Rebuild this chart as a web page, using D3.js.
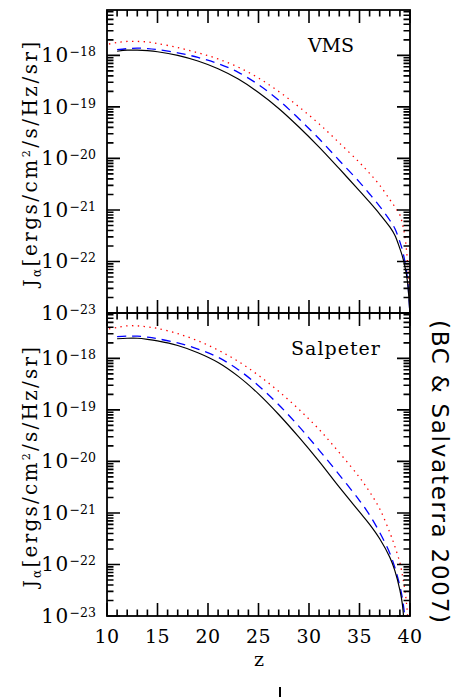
<!DOCTYPE html>
<html>
<head>
<meta charset="utf-8">
<script src="https://cdn.jsdelivr.net/npm/d3@7"></script>
<style>
  html, body { margin: 0; padding: 0; background: #fff; }
  svg { display: block; }
  text { font-family: "DejaVu Serif", serif; fill: #000; }
</style>
</head>
<body>
<svg id="chart" width="453" height="697"></svg>
<script>
// redshift grid shared by all curves
var zGrid = [10.2, 11, 12, 13, 14, 15, 17, 19, 21, 23, 25, 27, 29, 31, 33, 35, 36, 37, 38, 38.5, 39, 39.25, 39.5, 39.75, 40];

// log10 J_alpha (null = not drawn)
var vmsSolid = [null, -17.92, -17.90, -17.90, -17.91, -17.93, -18.00, -18.11, -18.26, -18.46, -18.72, -19.03, -19.39, -19.78, -20.20, -20.63, -20.85, -21.08, -21.33, -21.49, -21.75, -21.90, -22.10, -22.39, -23.05];
var vmsDash  = [null, -17.89, -17.87, -17.86, -17.87, -17.89, -17.95, -18.04, -18.16, -18.33, -18.57, -18.87, -19.23, -19.62, -20.04, -20.46, -20.69, -20.93, -21.20, -21.36, -21.62, -21.78, -22.01, -22.33, -23.05];
var vmsDot   = [-17.78, -17.75, -17.73, -17.73, -17.74, -17.77, -17.85, -17.95, -18.07, -18.23, -18.44, -18.70, -19.00, -19.33, -19.70, -20.08, -20.29, -20.52, -20.80, -20.94, -21.10, -21.27, -21.52, -22.00, -22.68];

var salSolid = [null, -17.62, -17.61, -17.61, -17.63, -17.66, -17.75, -17.89, -18.08, -18.35, -18.69, -19.09, -19.53, -20.00, -20.50, -20.98, -21.22, -21.50, -21.86, -22.12, -22.50, -22.78, -23.40, null, null];
var salDash  = [null, -17.58, -17.57, -17.57, -17.59, -17.62, -17.70, -17.82, -17.98, -18.22, -18.53, -18.90, -19.32, -19.78, -20.26, -20.76, -21.04, -21.38, -21.78, -22.06, -22.42, -22.66, -23.05, -23.80, null];
var salDot   = [-17.43, -17.40, -17.37, -17.37, -17.39, -17.42, -17.52, -17.66, -17.84, -18.06, -18.33, -18.64, -18.99, -19.38, -19.83, -20.31, -20.59, -20.92, -21.38, -21.65, -21.97, -22.21, -22.50, -22.96, -23.80];

var panelNames = ["VMS", "Salpeter"];
var xMajor = [10, 15, 20, 25, 30, 35, 40];
var yExponents = [-18, -19, -20, -21, -22, -23];

var svg = d3.select("#chart");

var plotLeft = 107, plotRight = 410, panelH = 303;
var panelTops = [10, 313];
var yMax = Math.pow(10, -17.12);
var majLen = 13, minLen = 6.5;

var x = d3.scaleLinear().domain([10, 40]).range([plotLeft, plotRight]);

var styles = [
  { color: "#ff0000", dash: "1.4,4.4", width: 1.3 },
  { color: "#0000ff", dash: "9,6", width: 1.3 },
  { color: "#000000", dash: null, width: 1.2 }
];
var panelSeries = [
  [vmsDot, vmsDash, vmsSolid],
  [salDot, salDash, salSolid]
];
var labelPos = [[331, 52], [336, 355]];

var xTicks = d3.range(10, 41);

panelTops.forEach(function (top, pi) {
  var bottom = top + panelH;
  var y = d3.scaleLog().domain([1e-23, yMax]).range([bottom, top]);
  var yTicks = y.ticks();
  var isMajorY = function (t) { var l = Math.log10(t); return Math.abs(l - Math.round(l)) < 1e-6; };

  var g = svg.append("g");

  // curves
  svg.append("clipPath").attr("id", "clip" + pi)
    .append("rect").attr("x", plotLeft).attr("y", top).attr("width", plotRight - plotLeft).attr("height", panelH);

  var line = d3.line()
    .defined(function (d) { return d[1] != null; })
    .x(function (d) { return x(d[0]); })
    .y(function (d) { return y(Math.pow(10, d[1])); })
    .curve(d3.curveCatmullRom.alpha(0.5));

  panelSeries[pi].forEach(function (vals, si) {
    var pts = zGrid.map(function (z, i) { return [z, vals[i]]; });
    var st = styles[si];
    g.append("path")
      .attr("clip-path", "url(#clip" + pi + ")")
      .attr("d", line(pts))
      .attr("fill", "none")
      .attr("stroke", st.color)
      .attr("stroke-width", st.width)
      .attr("stroke-dasharray", st.dash);
  });

  // frame
  g.append("rect")
    .attr("x", plotLeft).attr("y", top)
    .attr("width", plotRight - plotLeft).attr("height", panelH)
    .attr("fill", "none").attr("stroke", "#000").attr("stroke-width", 1.8);

  // all ticks in one path, pointing inward on the four sides
  var p = d3.path();
  yTicks.forEach(function (d) {
    var yy = y(d);
    var len = isMajorY(d) ? majLen : minLen;
    p.moveTo(plotLeft, yy); p.lineTo(plotLeft + len, yy);
    p.moveTo(plotRight, yy); p.lineTo(plotRight - len, yy);
  });
  xTicks.forEach(function (d) {
    var xx = x(d);
    var len = d % 5 == 0 ? majLen : minLen;
    p.moveTo(xx, bottom); p.lineTo(xx, bottom - len);
    p.moveTo(xx, top); p.lineTo(xx, top + len);
  });
  svg.append("path")
    .attr("d", p.toString())
    .attr("fill", "none")
    .attr("stroke", "#000")
    .attr("stroke-width", 1.6);

  // y tick labels 10^n
  yExponents.forEach(function (e) {
    var t = g.append("text")
      .attr("x", 96).attr("y", y(Math.pow(10, e)) + 7)
      .attr("text-anchor", "end")
      .style("font-size", "20px");
    t.append("tspan").text("10").style("letter-spacing", "1.5px");
    t.append("tspan").text("\u2212" + Math.abs(e)).attr("dy", -6).style("font-size", "12.5px");
  });

  // y-axis title
  var yt = g.append("text")
    .attr("transform", "translate(37," + (top + 153) + ") rotate(-90)")
    .attr("text-anchor", "middle")
    .style("font-size", "18px");
  yt.append("tspan").text("J");
  yt.append("tspan").text("\u03b1").attr("dy", 4).style("font-size", "12px");
  yt.append("tspan").text("[ergs/cm").attr("dy", -4).style("font-size", "20px");
  yt.append("tspan").text("2").attr("dy", -7).style("font-size", "11px");
  yt.append("tspan").text("/s/Hz/sr]").attr("dy", 7).style("font-size", "20px");
  var target = pi == 0 ? 250 : 245;
  var w = yt.node().getComputedTextLength();
  yt.style("letter-spacing", ((target - w) / 21) + "px");

  // panel label
  g.append("text")
    .attr("x", labelPos[pi][0]).attr("y", labelPos[pi][1])
    .attr("text-anchor", "middle")
    .style("font-size", "19px")
    .style("letter-spacing", pi == 1 ? "1px" : "0px")
    .text(panelNames[pi]);

  // x tick labels only under the lower panel
  if (pi == panelTops.length - 1) {
    xMajor.forEach(function (v) {
      g.append("text")
        .attr("x", x(v)).attr("y", 643)
        .attr("text-anchor", "middle")
        .style("font-size", "19px")
        .style("letter-spacing", "0.5px")
        .text(v);
    });
    g.append("text")
      .attr("x", 259).attr("y", 666)
      .attr("text-anchor", "middle")
      .style("font-size", "19px")
      .text("z");
  }
});

// reference on the right side
var ref = svg.append("text")
  .attr("transform", "translate(432,320) rotate(90)")
  .style("font-family", "'DejaVu Sans', sans-serif")
  .style("font-size", "23px")
  .text("(BC & Salvaterra 2007)");
var rw = ref.node().getComputedTextLength();
ref.style("letter-spacing", ((303 - rw) / 21) + "px");

// small mark under the chart
svg.append("line")
  .attr("x1", 280).attr("x2", 280).attr("y1", 687).attr("y2", 697)
  .attr("stroke", "#000").attr("stroke-width", 2);
</script>
</body>
</html>
